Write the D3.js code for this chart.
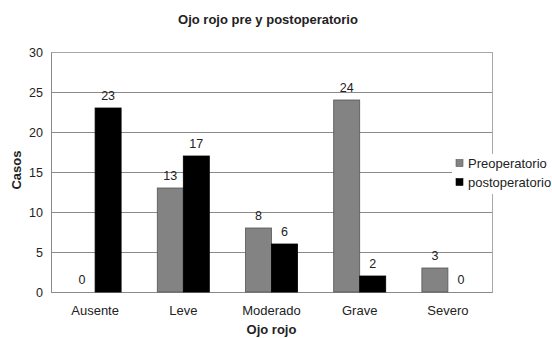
<!DOCTYPE html>
<html>
<head>
<meta charset="utf-8">
<script src="https://cdn.jsdelivr.net/npm/d3@7/dist/d3.min.js"></script>
<style>
  html, body { margin: 0; padding: 0; background: #fff; }
  svg { display: block; font-family: "Liberation Sans", Arial, sans-serif; }
</style>
</head>
<body>
<svg id="chart" width="552" height="338"></svg>
<script>
// Red-eye severity before and after surgery
const categories = ["Ausente", "Leve", "Moderado", "Grave", "Severo"];
const seriesNames = ["Preoperatorio", "postoperatorio"];
const preoperatorio = [0, 13, 8, 24, 3];
const postoperatorio = [23, 17, 6, 2, 0];
const yTicks = [0, 5, 10, 15, 20, 25, 30];
const seriesColors = ["#838383", "#000000"];

const svg = d3.select("#chart");
const margin = { left: 51, right: 60, top: 52, bottom: 46 };
const W = 552, H = 338;
const plotW = W - margin.left - margin.right;
const plotH = H - margin.top - margin.bottom;
const FS = 12.5;

const g = svg.append("g").attr("transform", `translate(${margin.left},${margin.top})`);

const x0 = d3.scaleBand().domain(categories).range([0, plotW])
  .paddingInner(0.41).paddingOuter(0.205);
const x1 = d3.scaleBand().domain(seriesNames).range([0, x0.bandwidth()]);
const y = d3.scaleLinear().domain([0, 30]).range([plotH, 0]);

// gridlines
g.append("g")
  .selectAll("line")
  .data(yTicks.filter(t => t > 0))
  .join("line")
  .attr("x1", 0).attr("x2", plotW)
  .attr("y1", d => Math.round(y(d)) + 0.5).attr("y2", d => Math.round(y(d)) + 0.5)
  .attr("stroke", "#8a8a8a").attr("stroke-width", 1);

// plot frame
g.append("rect")
  .attr("x", 0.5).attr("y", 0.5)
  .attr("width", plotW).attr("height", plotH)
  .attr("fill", "none").attr("stroke", "#a8a8a8");

// y axis
const yAxis = d3.axisLeft(y).tickValues(yTicks).tickSize(0).tickPadding(8);
const ya = g.append("g").call(yAxis);
ya.select(".domain").attr("stroke", "#8a8a8a");
ya.selectAll("text").attr("font-size", FS).attr("fill", "#222")
  .attr("font-family", "Liberation Sans, Arial, sans-serif");

// x axis
const xAxis = d3.axisBottom(x0).tickSize(0).tickPadding(14);
const xa = g.append("g").attr("transform", `translate(0,${plotH})`).call(xAxis);
xa.select(".domain").attr("stroke", "#8a8a8a");
xa.selectAll("text").attr("font-size", 13).attr("fill", "#222")
  .attr("font-family", "Liberation Sans, Arial, sans-serif");

// bars
const rows = categories.map((c, i) => ({
  cat: c,
  vals: [
    { s: seriesNames[0], v: preoperatorio[i] },
    { s: seriesNames[1], v: postoperatorio[i] }
  ]
}));

const groups = g.append("g").selectAll("g")
  .data(rows).join("g")
  .attr("transform", d => `translate(${x0(d.cat)},0)`);

groups.selectAll("rect")
  .data(d => d.vals.filter(e => e.v > 0))
  .join("rect")
  .attr("x", d => x1(d.s))
  .attr("y", d => y(d.v))
  .attr("width", x1.bandwidth())
  .attr("height", d => y(0) - y(d.v))
  .attr("fill", d => seriesColors[seriesNames.indexOf(d.s)])
  .attr("stroke", d => d.s === seriesNames[0] ? "#555" : "#000")
  .attr("stroke-width", 0.8);

groups.selectAll("text")
  .data(d => d.vals)
  .join("text")
  .attr("x", d => x1(d.s) + x1.bandwidth() / 2)
  .attr("y", d => y(d.v) - 8)
  .attr("text-anchor", "middle")
  .attr("font-size", FS)
  .attr("fill", "#222")
  .text(d => d.v);

// title
svg.append("text")
  .attr("x", 268).attr("y", 24)
  .attr("text-anchor", "middle")
  .attr("font-size", 13).attr("font-weight", "bold").attr("fill", "#222")
  .text("Ojo rojo pre y postoperatorio");

// axis titles
svg.append("text")
  .attr("x", margin.left + plotW / 2).attr("y", 334)
  .attr("text-anchor", "middle")
  .attr("font-size", 13).attr("font-weight", "bold").attr("fill", "#222")
  .text("Ojo rojo");

svg.append("text")
  .attr("transform", `translate(21,${margin.top + plotH / 2 - 2}) rotate(-90)`)
  .attr("text-anchor", "middle")
  .attr("font-size", 13).attr("font-weight", "bold").attr("fill", "#222")
  .text("Casos");

// legend
const legend = svg.append("g").attr("transform", "translate(452,154)");
legend.append("rect")
  .attr("x", 0).attr("y", 0).attr("width", 110).attr("height", 40)
  .attr("fill", "#fff");
seriesNames.forEach((s, i) => {
  const row = legend.append("g").attr("transform", `translate(4,${9 + i * 19})`);
  row.append("rect")
    .attr("x", 0).attr("y", -3.5).attr("width", 7).attr("height", 7)
    .attr("fill", seriesColors[i])
    .attr("stroke", i === 0 ? "#555" : "#000").attr("stroke-width", 0.6);
  row.append("text")
    .attr("x", 12).attr("y", 4.5)
    .attr("font-size", 13).attr("fill", "#222")
    .text(s);
});
</script>
</body>
</html>
